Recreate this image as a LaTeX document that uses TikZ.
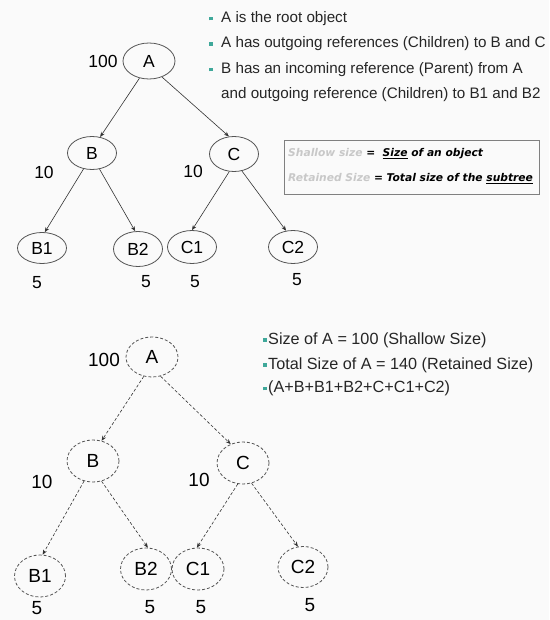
\documentclass[tikz,border=0pt]{standalone}
\usepackage{fontspec}
\setmainfont{Liberation Sans}
\newfontfamily\boxfont{DejaVu Sans}
\usetikzlibrary{shapes.geometric,arrows.meta}
\definecolor{bulletc}{HTML}{3FA89A}
\definecolor{linec}{HTML}{333333}
\definecolor{ringc}{HTML}{555555}
\definecolor{faint}{HTML}{C8C8C8}
\definecolor{paper}{HTML}{FAFAFA}
\newcommand{\sqbullet}{{\color{bulletc}\rule[0.25ex]{3.6pt}{3.6pt}}}
\tikzset{
  obj/.style={ellipse, draw=ringc, line width=0.8pt, inner sep=0pt,
    minimum width=49pt, minimum height=33pt, font=\fontsize{17.5}{17.5}\selectfont},
  objd/.style={obj, densely dashed, minimum width=52pt, minimum height=42pt,
    font=\fontsize{19}{19}\selectfont},
  arr/.style={draw=linec, line width=0.6pt, -{Stealth[length=5pt,width=4pt]}},
  arrd/.style={arr, densely dashed},
  num/.style={font=\fontsize{17.5}{17.5}\selectfont, inner sep=0pt},
  numd/.style={font=\fontsize{19}{19}\selectfont, inner sep=0pt},
  txt/.style={anchor=base west, inner sep=0pt, font=\fontsize{15.2}{16}\selectfont, text=black!85},
  txtb/.style={anchor=base west, inner sep=0pt, font=\fontsize{16.2}{17}\selectfont, text=black!85},
  boxt/.style={anchor=base west, inner sep=0pt, font=\boxfont\bfseries\itshape\fontsize{10.7}{11}\selectfont}
}
\begin{document}
\begin{tikzpicture}[x=1pt,y=-1pt]
\useasboundingbox[fill=paper] (0,0) rectangle (549,620);

% ---- upper tree ----
\node[obj, minimum width=52pt, minimum height=36pt] (A) at (149,61) {A};
\node[obj] (B) at (92,153) {B};
\node[obj, minimum height=35pt] (C) at (234,154) {C};
\node[obj, minimum height=31pt] (B1) at (42,248) {B1};
\node[obj, minimum height=35pt] (B2) at (138,249) {B2};
\node[obj] (C1) at (192,247) {C1};
\node[obj] (C2) at (293,247) {C2};

\draw[arr] (A.-119) -- (B.63);
\draw[arr] (A.-51) -- (C.106);
\draw[arr] (B.-118) -- (B1.80);
\draw[arr] (B.-65) -- (B2.99);
\draw[arr] (C.-105) -- (C1.90);
\draw[arr] (C.-65) -- (C2.113);

\node[num] (nA) at (103,61) {100};
\node[num] (nB) at (44,172) {10};
\node[num] (nC) at (193,171) {10};
\node[num] (nB1) at (37,283) {5};
\node[num] (nB2) at (146,282) {5};
\node[num] (nC1) at (195,282) {5};
\node[num] (nC2) at (297,280) {5};

% ---- notes on references ----
\node[txt] (t1) at (209,22.5) {\makebox[12pt][l]{\sqbullet}A is the root object};
\node[txt] (t2) at (209,48) {\makebox[12pt][l]{\sqbullet}A has outgoing references (Children) to B and C};
\node[txt] (t3) at (209,73.5) {\makebox[12pt][l]{\sqbullet}B has an incoming reference (Parent) from A};
\node[txt] (t4) at (221,98.5) {and outgoing reference (Children) to B1 and B2};

% ---- definitions box ----
\draw[draw=gray, line width=0.9pt] (284,140) rectangle (539,194);
\node[boxt] (d1) at (288,157) {{\color{faint}Shallow size} = \ \underline{Size} of an object};
\node[boxt] (d2) at (288,182) {{\color{faint}Retained Size} = Total size of the \underline{subtree}};

% ---- lower tree ----
\node[objd, minimum height=40pt] (LA) at (152,357) {A};
\node[objd] (LB) at (93,461) {B};
\node[objd] (LC) at (243,463) {C};
\node[objd, minimum width=51pt] (LB1) at (40,576) {B1};
\node[objd, minimum width=51pt] (LB2) at (146,569) {B2};
\node[objd] (LC1) at (198,569) {C1};
\node[objd, minimum width=50pt, minimum height=41pt] (LC2) at (303,567) {C2};

\draw[arrd] (LA.-113) -- (LB.67);
\draw[arrd] (LA.-66) -- (LC.123);
\draw[arrd] (LB.-114) -- (LB1.83);
\draw[arrd] (LB.-67) -- (LB2.85);
\draw[arrd] (LC.-104) -- (LC1.93);
\draw[arrd] (LC.-67) -- (LC2.104);

\node[numd] (mA) at (104,360) {100};
\node[numd] (mB) at (42,482) {10};
\node[numd] (mC) at (199,480) {10};
\node[numd] (mB1) at (37,608) {5};
\node[numd] (mB2) at (150,607) {5};
\node[numd] (mC1) at (201,607) {5};
\node[numd] (mC2) at (310,605) {5};

% ---- size notes ----
\node[txtb] (s1) at (263,344) {\makebox[5pt][l]{\sqbullet}Size of A = 100 (Shallow Size)};
\node[txtb] (s2) at (263,369) {\makebox[5pt][l]{\sqbullet}Total Size of A = 140 (Retained Size)};
\node[txtb] (s3) at (263,392.5) {\makebox[5pt][l]{\sqbullet}(A+B+B1+B2+C+C1+C2)};
\end{tikzpicture}
\end{document}
